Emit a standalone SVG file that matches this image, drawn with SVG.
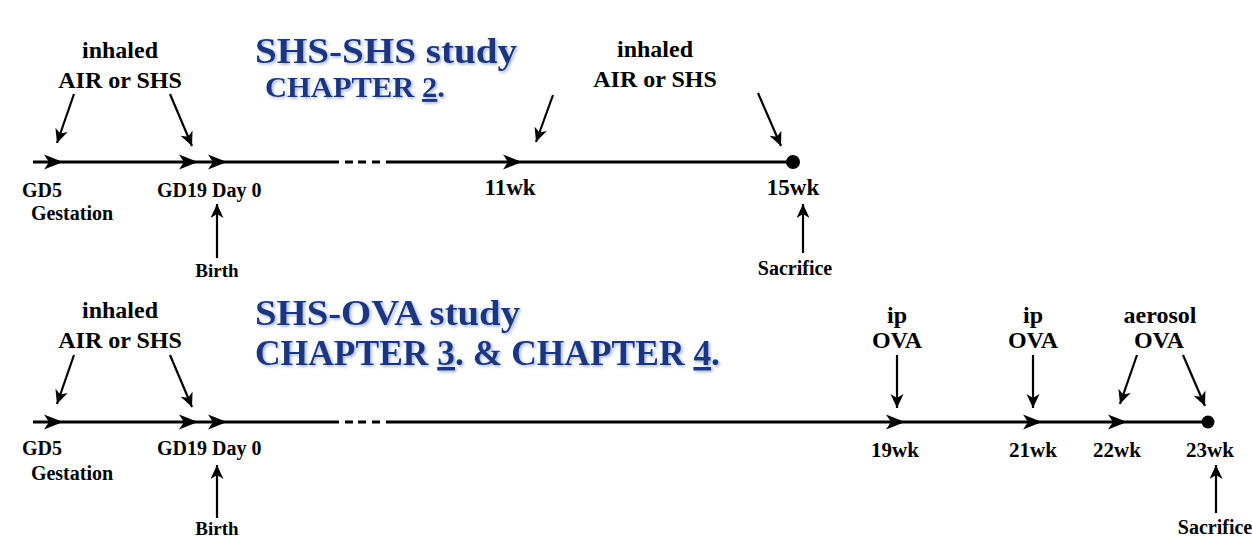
<svg xmlns="http://www.w3.org/2000/svg" xmlns:xlink="http://www.w3.org/1999/xlink" width="1252" height="538" viewBox="0 0 1252 538">
<style>
.t{font-family:"Liberation Serif","Times New Roman",serif;font-weight:bold;fill:#000}
.m{text-anchor:middle}
.ttl{font-family:"Liberation Serif","Times New Roman",serif;font-weight:bold;fill:#1a3481;filter:url(#glow)}
.ln{stroke:#000;stroke-width:3;fill:none}
.ar{stroke:#000;stroke-width:2.2;fill:none;marker-end:url(#sm)}
</style>
<defs>
<filter id="glow" x="-10%" y="-30%" width="120%" height="160%">
<feDropShadow dx="1.5" dy="1.5" stdDeviation="1.5" flood-color="#8ea6d6" flood-opacity="0.9"/>
</filter>
<marker id="sm" markerUnits="userSpaceOnUse" markerWidth="16" markerHeight="14" refX="14" refY="6.5" orient="auto">
<path d="M0,0 L14,6.5 L0,13 L4,6.5 Z" fill="#000"/>
</marker>
<path id="ah" d="M0,0 L-19,-7.5 L-14,0 L-19,7.5 Z" fill="#000"/>
</defs>
<rect width="1252" height="538" fill="#fff"/>

<g id="connectors">
<path class="ln" d="M33,162 H339 M345,162 H353 M358,162 H366 M372,162 H380 M386,162 H793"/>
<path class="ln" d="M33,422 H339 M345,422 H353 M358,422 H366 M372,422 H380 M386,422 H1208"/>
<line class="ar" x1="74" y1="94" x2="57" y2="143"/>
<line class="ar" x1="170" y1="94" x2="192" y2="146"/>
<line class="ar" x1="553" y1="95" x2="536" y2="142"/>
<line class="ar" x1="758" y1="93" x2="781" y2="146"/>
<line class="ar" x1="217" y1="258" x2="217" y2="204"/>
<line class="ar" x1="803" y1="253" x2="803" y2="204"/>
<line class="ar" x1="74" y1="355" x2="57" y2="404"/>
<line class="ar" x1="170" y1="355" x2="192" y2="407"/>
<line class="ar" x1="897" y1="355" x2="897" y2="408"/>
<line class="ar" x1="1033" y1="355" x2="1033" y2="408"/>
<line class="ar" x1="1137" y1="355" x2="1120" y2="404"/>
<line class="ar" x1="1183" y1="355" x2="1205" y2="406"/>
<line class="ar" x1="217" y1="518" x2="217" y2="465"/>
<line class="ar" x1="1216" y1="513" x2="1216" y2="465"/>
</g>

<g id="top-markers">
<use xlink:href="#ah" href="#ah" x="63" y="162"/>
<use xlink:href="#ah" href="#ah" x="198" y="162"/>
<use xlink:href="#ah" href="#ah" x="227" y="162"/>
<use xlink:href="#ah" href="#ah" x="522" y="162"/>
<circle cx="793" cy="162" r="7" fill="#000"/>
</g>
<g id="bottom-markers">
<use xlink:href="#ah" href="#ah" x="63" y="422"/>
<use xlink:href="#ah" href="#ah" x="198" y="422"/>
<use xlink:href="#ah" href="#ah" x="227" y="422"/>
<use xlink:href="#ah" href="#ah" x="905" y="422"/>
<use xlink:href="#ah" href="#ah" x="1042" y="422"/>
<use xlink:href="#ah" href="#ah" x="1127" y="422"/>
<circle cx="1208" cy="422" r="6.5" fill="#000"/>
</g>

<g id="top-title">
<text class="ttl" x="255" y="63" font-size="36" textLength="262" lengthAdjust="spacingAndGlyphs">SHS-SHS study</text>
<text class="ttl" x="265" y="97" font-size="29" textLength="180" lengthAdjust="spacingAndGlyphs">CHAPTER <tspan text-decoration="underline">2</tspan>.</text>
</g>
<g id="top-inhaled-1">
<text class="t m" x="120" y="58" font-size="24">inhaled</text>
<text class="t m" x="120" y="88" font-size="24">AIR or SHS</text>
</g>
<g id="top-inhaled-2">
<text class="t m" x="655" y="57" font-size="24">inhaled</text>
<text class="t m" x="655" y="87" font-size="24">AIR or SHS</text>
</g>
<g id="top-gd5">
<text class="t" x="22" y="197" font-size="20">GD5</text>
<text class="t m" x="72" y="220" font-size="20">Gestation</text>
</g>
<g id="top-gd19"><text class="t" x="157" y="197" font-size="20">GD19 Day 0</text></g>
<g id="top-birth"><text class="t m" x="217" y="277" font-size="19">Birth</text></g>
<g id="top-11wk"><text class="t m" x="510" y="195" font-size="23">11wk</text></g>
<g id="top-15wk"><text class="t m" x="793" y="195" font-size="23">15wk</text></g>
<g id="top-sacrifice"><text class="t m" x="795" y="275" font-size="20">Sacrifice</text></g>

<g id="bottom-title">
<text class="ttl" x="255" y="325" font-size="35" textLength="265" lengthAdjust="spacingAndGlyphs">SHS-OVA study</text>
<text class="ttl" x="255" y="365" font-size="35" textLength="465" lengthAdjust="spacingAndGlyphs">CHAPTER <tspan text-decoration="underline">3</tspan>. &amp; CHAPTER <tspan text-decoration="underline">4</tspan>.</text>
</g>
<g id="bottom-inhaled">
<text class="t m" x="120" y="318" font-size="24">inhaled</text>
<text class="t m" x="120" y="348" font-size="24">AIR or SHS</text>
</g>
<g id="bottom-gd5">
<text class="t" x="22" y="455" font-size="20">GD5</text>
<text class="t m" x="72" y="480" font-size="20">Gestation</text>
</g>
<g id="bottom-gd19"><text class="t" x="157" y="455" font-size="20">GD19 Day 0</text></g>
<g id="bottom-birth"><text class="t m" x="217" y="535" font-size="19">Birth</text></g>
<g id="ip-1">
<text class="t m" x="897" y="323" font-size="24">ip</text>
<text class="t m" x="897" y="348" font-size="24">OVA</text>
</g>
<g id="ip-2">
<text class="t m" x="1033" y="323" font-size="24">ip</text>
<text class="t m" x="1033" y="348" font-size="24">OVA</text>
</g>
<g id="aerosol">
<text class="t m" x="1160" y="323" font-size="24">aerosol</text>
<text class="t m" x="1159" y="348" font-size="24">OVA</text>
</g>
<g id="w19"><text class="t m" x="895" y="457" font-size="21">19wk</text></g>
<g id="w21"><text class="t m" x="1033" y="457" font-size="21">21wk</text></g>
<g id="w22"><text class="t m" x="1117" y="457" font-size="21">22wk</text></g>
<g id="w23"><text class="t m" x="1210" y="457" font-size="21">23wk</text></g>
<g id="bottom-sacrifice"><text class="t m" x="1215" y="534" font-size="20">Sacrifice</text></g>
</svg>
